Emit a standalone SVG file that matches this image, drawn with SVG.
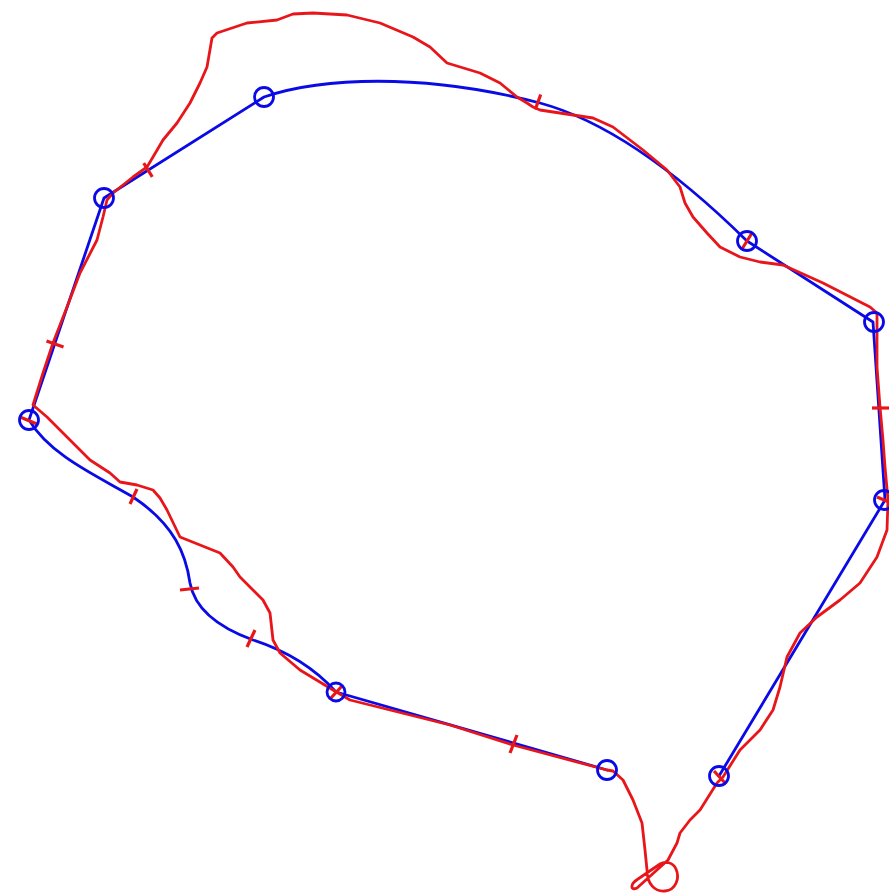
<svg xmlns="http://www.w3.org/2000/svg" width="889" height="894" viewBox="0 0 889 894">
<style>
.blue{fill:none;stroke:#0a0ae6;stroke-width:2.8;stroke-linejoin:round;stroke-linecap:round}
.red{fill:none;stroke:#e8161a;stroke-width:2.8;stroke-linejoin:round;stroke-linecap:round}
.node{fill:none;stroke:#0a0ae6;stroke-width:2.8}
.tick{stroke:#e8161a;stroke-width:3.2;stroke-linecap:butt}
</style>
<rect width="889" height="894" fill="#ffffff"/>
<g id="connectors">
<path id="blue-curve" class="blue" d="M607,770 L336,692 C318,672 290,652 253,640 C220,628 195,610 190,583 C186,555 175,525 133,497 C95,475 50,455 29,420 L104,198 L264,97 C320,78 420,72 540,103 C610,122 680,175 747,241 L873,322 L885,500 L719,776"/>
<path id="red-curve" class="red" d="M607,770 L613,771 L623,780 L633,800 L642,823 L645,850 L647,870 C647,884 655,892 665,891 C676,890 680,878 676,869 C673,862 665,861 660,864 L638,879 C630,884 630,891 637,888 L668,860 L677,843 L680,833 L690,820 L700,810 L717,783 L723,777 L740,750 L760,730 L773,710 L780,687 L787,657 L800,633 L817,617 L840,600 L860,583 L877,557 L887,530 L888,500 L885,467 L883,440 L880,407 L877,367 L877,347 L877,313 L870,307 L823,283 L783,265 L760,262 L740,257 L720,247 L707,233 L693,217 L685,203 L680,187 L667,170 L643,150 L613,127 L593,118 L573,115 L540,110 L533,107 L527,103 L517,97 L500,83 L480,73 L447,63 L430,47 L413,37 L380,23 L347,15 L313,13 L293,14 L277,20 L247,23 L217,33 L212,38 L207,67 L200,83 L190,103 L177,123 L163,140 L153,157 L147,167 L133,177 L113,193 L107,200 L103,217 L97,240 L80,273 L67,307 L53,343 L43,373 L33,405 L47,417 L67,437 L90,460 L110,473 L120,482 L137,485 L153,490 L160,498 L167,510 L180,537 L200,545 L220,553 L233,567 L240,577 L263,600 L270,613 L273,640 L280,653 L300,670 L333,690 L350,700 L450,725 L513,745 Z"/>
</g>
<g id="ticks">
<line class="tick" x1="143.7" y1="163.2" x2="152.3" y2="176.8"/>
<line class="tick" x1="46.5" y1="341" x2="63.5" y2="347"/>
<line class="tick" x1="20" y1="417" x2="37" y2="424"/>
<line class="tick" x1="130" y1="504" x2="137" y2="489"/>
<line class="tick" x1="180" y1="590" x2="199" y2="588"/>
<line class="tick" x1="247" y1="647" x2="255" y2="630"/>
<line class="tick" x1="330" y1="699" x2="342" y2="686"/>
<line class="tick" x1="510" y1="753" x2="517" y2="735"/>
<line class="tick" x1="714" y1="771" x2="726" y2="784"/>
<line class="tick" x1="872" y1="408" x2="889" y2="408"/>
<line class="tick" x1="877" y1="497" x2="889" y2="502"/>
<line class="tick" x1="742" y1="249" x2="752" y2="233"/>
<line class="tick" x1="540.7" y1="94.5" x2="535.3" y2="109.5"/>
</g>
<g id="n1"><circle class="node" cx="264" cy="97" r="9.5"/></g>
<g id="n2"><circle class="node" cx="104" cy="198" r="9.5"/></g>
<g id="n3"><circle class="node" cx="29" cy="420" r="9.5"/></g>
<g id="n4"><circle class="node" cx="336" cy="692" r="9"/></g>
<g id="n5"><circle class="node" cx="607" cy="770" r="9.5"/></g>
<g id="n6"><circle class="node" cx="719" cy="776" r="9.5"/></g>
<g id="n7"><circle class="node" cx="884" cy="500" r="9.5"/></g>
<g id="n8"><circle class="node" cx="874" cy="322" r="9.5"/></g>
<g id="n9"><circle class="node" cx="747" cy="241" r="9.5"/></g>
</svg>
